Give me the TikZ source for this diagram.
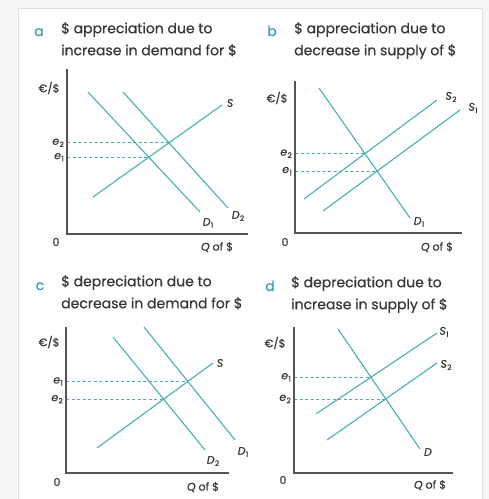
\documentclass[tikz,border=0pt]{standalone}
\usepackage{fontspec}
\setmainfont{Poppins}[FakeBold=0.5]
\usepackage{xcolor}
\usetikzlibrary{positioning,calc}

\definecolor{teal1}{RGB}{72,176,178}
\definecolor{tagcol}{RGB}{58,160,170}
\definecolor{ink}{RGB}{55,55,55}
\definecolor{axcol}{RGB}{85,85,85}

\newcommand{\sub}[2]{\textit{#1}\kern0.3pt\raisebox{-2.2pt}{\fontsize{7.5}{8}\selectfont #2}}

\begin{document}
\begin{tikzpicture}[
  x=1pt, y=-1pt,
  every node/.style={text=ink, inner sep=0pt},
  title/.style={anchor=north west, align=left, font=\fontsize{14}{22}\selectfont},
  tag/.style={anchor=base, text=tagcol, font=\fontsize{14}{15}\selectfont},
  lbl/.style={font=\fontsize{11}{12}\selectfont},
  axis/.style={draw=axcol, line width=1.6pt},
  curve/.style={draw=teal1, line width=1.1pt},
  guide/.style={draw=teal1, line width=0.7pt, dash pattern=on 3pt off 2.5pt},
]
\useasboundingbox (0,0) rectangle (489,499);

% Frame
\fill[gray!7] (0,0) rectangle (489,499);
\filldraw[fill=white, draw=gray!25, line width=1pt] (18,8) rectangle (482,505);

% ---------- Panel a ----------
\node[tag] (ta) at (39,36) {a};
\node[title] (a) at (61,22) {\$ appreciation due to\\increase in demand for \$};

\coordinate (aO) at (67,234);
\coordinate (aY) at (67,69);
\coordinate (aQ) at (248,234);
\coordinate (aD1s) at (88,92);  \coordinate (aD1e) at (200,212);
\coordinate (aD2s) at (123,92); \coordinate (aD2e) at (228,208);
\coordinate (aSs) at (93,197);  \coordinate (aSe) at (222,105);
\coordinate (aX1) at (intersection of aD1s--aD1e and aSs--aSe);
\coordinate (aX2) at (intersection of aD2s--aD2e and aSs--aSe);

\draw[guide] (aO |- aX2) -- (aX2);
\draw[guide] (aO |- aX1) -- (aX1);
\draw[curve] (aD1s) -- (aD1e);
\draw[curve] (aD2s) -- (aD2e);
\draw[curve] (aSs) -- (aSe);
\draw[axis] (aY) -- (aO) -- (aQ);

\node[lbl] (aunit) at (49,88) {€/\$};
\node[lbl, left=3pt of aO |- aX2] (ae2) {\sub{e}{2}};
\node[lbl, left=3pt of aO |- aX1] (ae1) {\sub{e}{1}};
\node[lbl] (a0) at (56,242) {0};
\node[lbl] (aq) at (217,247) {\textit{Q} of \$};
\node[lbl] (aD1) at (208,223) {\sub{D}{1}};
\node[lbl] (aD2) at (238,216) {\sub{D}{2}};
\node[lbl] (aS) at (230,103) {\textit{S}};

% ---------- Panel b ----------
\node[tag] (tb) at (272,36) {b};
\node[title] (b) at (294,22) {\$ appreciation due to\\decrease in supply of \$};

\coordinate (bO) at (295,233);
\coordinate (bY) at (295,81);
\coordinate (bQ) at (462,233);
\coordinate (bDs) at (319,88);   \coordinate (bDe) at (410,218);
\coordinate (bS2s) at (304,199); \coordinate (bS2e) at (437,100);
\coordinate (bS1s) at (323,211); \coordinate (bS1e) at (460,110);
\coordinate (bX1) at (intersection of bDs--bDe and bS1s--bS1e);
\coordinate (bX2) at (intersection of bDs--bDe and bS2s--bS2e);

\draw[guide] (bO |- bX2) -- (bX2);
\draw[guide] (bO |- bX1) -- (bX1);
\draw[curve] (bDs) -- (bDe);
\draw[curve] (bS2s) -- (bS2e);
\draw[curve] (bS1s) -- (bS1e);
\draw[axis] (bY) -- (bO) -- (bQ);

\node[lbl] (bunit) at (277,98) {€/\$};
\node[lbl, left=3pt of bO |- bX2] (be2) {\sub{e}{2}};
\node[lbl, left=3pt of bO |- bX1] (be1) {\sub{e}{1}};
\node[lbl] (b0) at (285,242) {0};
\node[lbl] (bq) at (437,247) {\textit{Q} of \$};
\node[lbl] (bD1) at (419,222) {\sub{D}{1}};
\node[lbl] (bS2) at (451,97) {\sub{S}{2}};
\node[lbl] (bS1) at (473,108) {\sub{S}{1}};

% ---------- Panel c ----------
\node[tag] (tc) at (40,290) {c};
\node[title] (c) at (61,275) {\$ depreciation due to\\decrease in demand for \$};

\coordinate (cO) at (66,473);
\coordinate (cY) at (66,327);
\coordinate (cQ) at (229,473);
\coordinate (cD2s) at (113,337); \coordinate (cD2e) at (205,450);
\coordinate (cD1s) at (144,327); \coordinate (cD1e) at (235,440);
\coordinate (cSs) at (97,448);   \coordinate (cSe) at (213,363);
\coordinate (cX1) at (intersection of cD1s--cD1e and cSs--cSe);
\coordinate (cX2) at (intersection of cD2s--cD2e and cSs--cSe);

\draw[guide] (cO |- cX1) -- (cX1);
\draw[guide] (cO |- cX2) -- (cX2);
\draw[curve] (cD2s) -- (cD2e);
\draw[curve] (cD1s) -- (cD1e);
\draw[curve] (cSs) -- (cSe);
\draw[axis] (cY) -- (cO) -- (cQ);

\node[lbl] (cunit) at (49,342) {€/\$};
\node[lbl, left=3pt of cO |- cX1] (ce1) {\sub{e}{1}};
\node[lbl, left=3pt of cO |- cX2] (ce2) {\sub{e}{2}};
\node[lbl] (c0) at (57,482) {0};
\node[lbl] (cq) at (203,487) {\textit{Q} of \$};
\node[lbl] (cD2) at (213,461) {\sub{D}{2}};
\node[lbl] (cD1) at (243,452) {\sub{D}{1}};
\node[lbl] (cS) at (220,363) {\textit{S}};

% ---------- Panel d ----------
\node[tag] (td) at (270,291) {d};
\node[title] (d) at (291,276) {\$ depreciation due to\\increase in supply of \$};

\coordinate (dO) at (294,473);
\coordinate (dY) at (294,327);
\coordinate (dQ) at (453,473);
\coordinate (dDs) at (338,329);  \coordinate (dDe) at (420,449);
\coordinate (dS1s) at (316,414); \coordinate (dS1e) at (437,333);
\coordinate (dS2s) at (327,440); \coordinate (dS2e) at (437,363);
\coordinate (dX1) at (intersection of dDs--dDe and dS1s--dS1e);
\coordinate (dX2) at (intersection of dDs--dDe and dS2s--dS2e);

\draw[guide] (dO |- dX1) -- (dX1);
\draw[guide] (dO |- dX2) -- (dX2);
\draw[curve] (dDs) -- (dDe);
\draw[curve] (dS1s) -- (dS1e);
\draw[curve] (dS2s) -- (dS2e);
\draw[axis] (dY) -- (dO) -- (dQ);

\node[lbl] (dunit) at (275,343) {€/\$};
\node[lbl, left=3pt of dO |- dX1] (de1) {\sub{e}{1}};
\node[lbl, left=3pt of dO |- dX2] (de2) {\sub{e}{2}};
\node[lbl] (d0) at (283,480) {0};
\node[lbl] (dq) at (430,485) {\textit{Q} of \$};
\node[lbl] (dD) at (428,452) {\textit{D}};
\node[lbl] (dS1) at (444,332) {\sub{S}{1}};
\node[lbl] (dS2) at (446,365) {\sub{S}{2}};

\end{tikzpicture}
\end{document}
